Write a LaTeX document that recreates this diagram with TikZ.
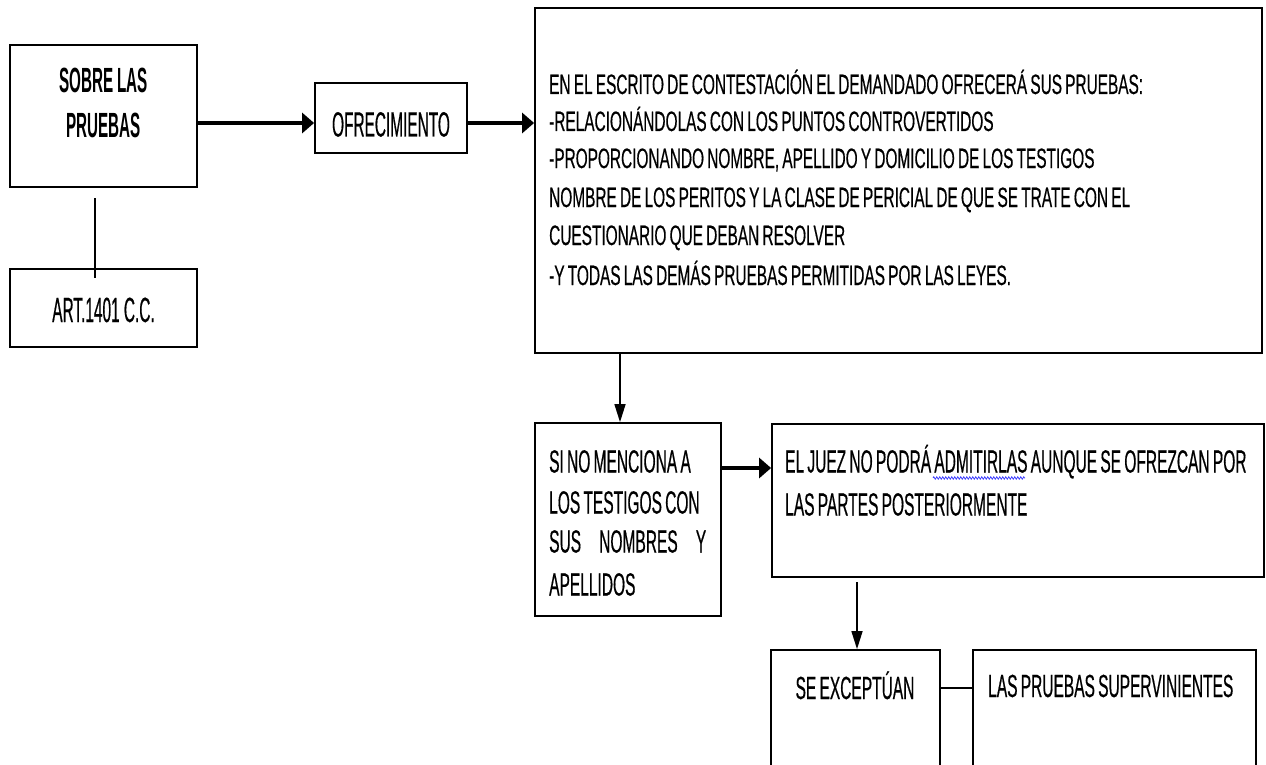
\documentclass[tikz,border=0pt]{standalone}
\usepackage{fontspec}
\setmainfont{Liberation Sans}
\newfontfamily\fnT[FakeStretch=0.485, WordSpace=0.75, FakeBold=0.4]{Liberation Sans}
\newfontfamily\fnL[FakeStretch=0.55, WordSpace=0.75, FakeBold=0.4]{Liberation Sans}
\newfontfamily\fnO[FakeStretch=0.44, FakeBold=0.4]{Liberation Sans}
\newfontfamily\fnB[FakeStretch=0.435]{Liberation Sans}
\usetikzlibrary{arrows.meta,decorations.pathmorphing}
\begin{document}
\begin{tikzpicture}[x=1pt,y=-1pt,
  boxst/.style={draw=black, line width=1.8pt, inner sep=0pt},
  tT/.style={inner sep=0pt, font=\fnT\fontsize{32}{38}\selectfont},
  tL/.style={inner sep=0pt, font=\fnL\fontsize{28}{34}\selectfont},
  tO/.style={inner sep=0pt, font=\fnO\fontsize{35}{40}\selectfont},
  tB/.style={inner sep=0pt, font=\fnB\bfseries\fontsize{35}{40}\selectfont},
  thickarr/.style={line width=3.5pt, -{Triangle[length=12pt,width=20pt]}},
  thinarr/.style={line width=1.5pt, -{Triangle[length=18pt,width=11pt]}},
  plainln/.style={line width=1.5pt}]
\useasboundingbox (0,0) rectangle (1266,765);
\clip (0,0) rectangle (1266,765);
\fill[white] (0,0) rectangle (1266,765);

% boxes
\node[boxst, minimum width=187pt, minimum height=142pt] (A) at (103.5,116) {};
\node[boxst, minimum width=187pt, minimum height=78pt] (R) at (103.5,308) {};
\node[boxst, minimum width=152pt, minimum height=70pt] (O) at (391,118) {};
\node[boxst, minimum width=727pt, minimum height=345pt] (B) at (898.5,180.5) {};
\node[boxst, minimum width=186pt, minimum height=193pt] (S) at (628,519.5) {};
\node[boxst, minimum width=492pt, minimum height=153pt] (J) at (1018,500.5) {};
\node[boxst, minimum width=169pt, minimum height=140pt] (E) at (855.5,720) {};
\node[boxst, minimum width=283pt, minimum height=140pt] (L) at (1114.5,720) {};

% texts
\node[tB, anchor=base] (A1) at (103.5,92.5) {SOBRE LAS};
\node[tB, anchor=base] (A2) at (103.5,137.5) {PRUEBAS};
\node[tO, anchor=base] (R1) at (103.5,322) {ART.1401 C.C.};
\node[tO, anchor=base] (O1) at (391,136.5) {OFRECIMIENTO};

\node[tL, anchor=base west] (B1) at (549,94) {EN EL ESCRITO DE CONTESTACIÓN EL DEMANDADO OFRECERÁ SUS PRUEBAS:};
\node[tL, anchor=base west] (B2) at (549,131) {-RELACIONÁNDOLAS CON LOS PUNTOS CONTROVERTIDOS};
\node[tL, anchor=base west] (B3) at (549,168) {-PROPORCIONANDO NOMBRE, APELLIDO Y DOMICILIO DE LOS TESTIGOS};
\node[tL, anchor=base west] (B4) at (549,207) {NOMBRE DE LOS PERITOS Y LA CLASE DE PERICIAL DE QUE SE TRATE CON EL};
\node[tL, anchor=base west] (B5) at (549,245) {CUESTIONARIO QUE DEBAN RESOLVER};
\node[tL, anchor=base west] (B6) at (549,285) {-Y TODAS LAS DEMÁS PRUEBAS PERMITIDAS POR LAS LEYES.};

\node[tT, anchor=base west] (S1) at (549,472.5) {SI NO MENCIONA A};
\node[tT, anchor=base west] (S2) at (549,513.5) {LOS TESTIGOS CON};
\node[tT, anchor=base west] (S3) at (549,552.5) {\hbox to 157pt{SUS\hfill NOMBRES\hfill Y}};
\node[tT, anchor=base west] (S4) at (549,595.5) {APELLIDOS};

\node[tT, anchor=base west] (J1) at (785,472.5) {EL JUEZ NO PODRÁ ADMITIRLAS AUNQUE SE OFREZCAN POR};
\node[tT, anchor=base west] (J2) at (785,515.5) {LAS PARTES POSTERIORMENTE};

\node[tT, anchor=base] (E1) at (855,699) {SE EXCEPTÚAN};
\node[tT, anchor=base west] (L1) at (988,697) {LAS PRUEBAS SUPERVINIENTES};

% spell-check squiggle
\draw[blue!75!white, line width=0.8pt, decorate, decoration={zigzag, segment length=3pt, amplitude=1.2pt}] (933,478) -- (1025,478);

% connectors
\coordinate (yA) at (0,123);
\draw[thickarr] (A.east |- yA) -- (O.west |- yA);
\draw[thickarr] (O.east |- yA) -- (B.west |- yA);
\coordinate (aTop) at (95,198);
\coordinate (aBot) at (95,278);
\draw[plainln] (aTop) -- (aBot);
\coordinate (xB) at (620,0);
\draw[thinarr] (B.south -| xB) -- (S.north -| xB);
\coordinate (yS) at (0,468);
\draw[thickarr] (S.east |- yS) -- (J.west |- yS);
\coordinate (jS) at (857,582);
\draw[thinarr] (jS) -- (E.north -| jS);
\coordinate (yE) at (0,688);
\draw[line width=2.5pt] (E.east |- yE) -- (L.west |- yE);
\end{tikzpicture}
\end{document}
